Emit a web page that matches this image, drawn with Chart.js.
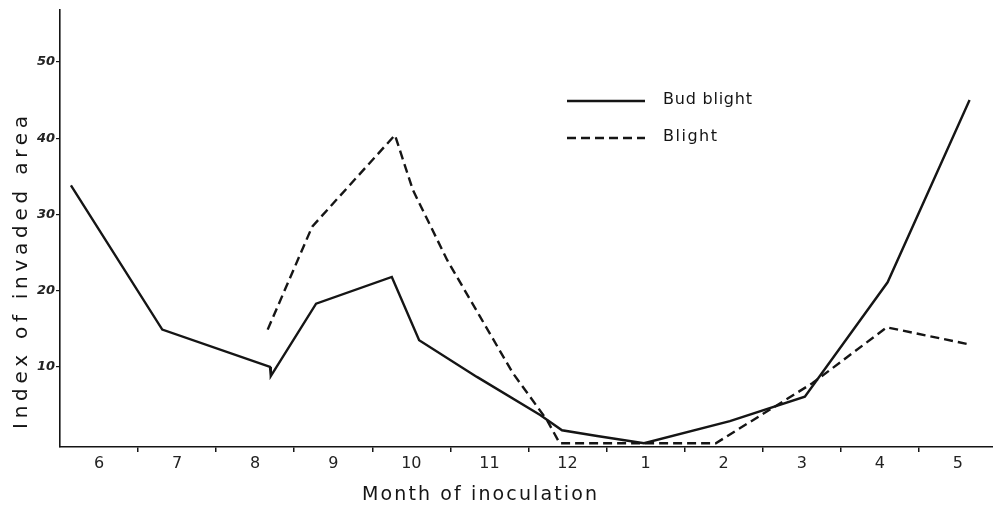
<!DOCTYPE html>
<html><head><meta charset="utf-8">
<script src="https://cdn.jsdelivr.net/npm/chart.js@4"></script>
<style>html,body{margin:0;padding:0;background:#fff}#wrap{width:993px;height:508px}</style>
</head><body><div id="wrap"><canvas id="c" width="993" height="508"></canvas></div>
<script>
// ---- data (x = months since start of June) ----
const monthLabels = ['6','7','8','9','10','11','12','1','2','3','4','5'];
const yTickValues = [10, 20, 30, 40, 50];
const seriesNames = ['Bud blight', 'Blight'];
const xTitle = 'Month of inoculation';
const yTitle = 'Index of invaded area';

const budBlightX = [0.14, 1.31, 2.69, 2.70, 3.28, 4.25, 4.60, 5.34, 6.15, 6.43, 6.88, 7.48, 8.58, 9.54, 10.60, 11.65];
const budBlightY = [33.8, 14.9, 10.0, 8.8, 18.3, 21.8, 13.5, 8.7, 3.7, 1.7, 0.95, 0.0, 2.9, 6.1, 21.1, 45.0];

const blightX = [2.66, 3.23, 4.29, 4.52, 4.96, 5.38, 5.80, 6.24, 6.40, 8.40, 9.64, 10.59, 11.63];
const blightY = [14.9, 28.4, 40.4, 33.2, 24.0, 16.6, 9.2, 3.0, 0.0, 0.0, 7.9, 15.2, 13.0];

const zip = (xs, ys) => xs.map((x, i) => ({x, y: ys[i]}));
const ink = '#151515';

function fitText(ctx, text, font, left, y, target) {
  ctx.font = font;
  ctx.letterSpacing = '0px';
  const w = ctx.measureText(text).width;
  const sp = (target - w) / (text.length - 1);
  ctx.letterSpacing = sp + 'px';
  ctx.textAlign = 'left';
  ctx.textBaseline = 'middle';
  ctx.fillText(text, left, y);
  ctx.letterSpacing = '0px';
}

const decor = {
  id: 'decor',
  afterDraw(chart) {
    const ctx = chart.ctx;
    ctx.save();
    ctx.fillStyle = ink;
    // x title
    fitText(ctx, xTitle, '19px "DejaVu Sans"', 362, 495, 235);
    // y title
    ctx.save();
    ctx.translate(22, 273);
    ctx.rotate(-Math.PI / 2);
    fitText(ctx, yTitle, '20px "DejaVu Sans"', -156, 0, 313);
    ctx.restore();
    // legend
    const rows = [{y: 101, tw: 89}, {y: 138, tw: 54}];
    chart.data.datasets.forEach((ds, i) => {
      const r = rows[i];
      ctx.beginPath();
      ctx.strokeStyle = ds.borderColor;
      ctx.lineWidth = ds.borderWidth;
      ctx.setLineDash(ds.borderDash || []);
      ctx.moveTo(567, r.y);
      ctx.lineTo(645, r.y);
      ctx.stroke();
      ctx.setLineDash([]);
      fitText(ctx, ds.label, '16px "DejaVu Sans"', 663, r.y - 1, r.tw);
    });
    ctx.restore();
  }
};

new Chart(document.getElementById('c'), {
  type: 'line',
  data: {
    datasets: [
      {label: seriesNames[0], data: zip(budBlightX, budBlightY), borderColor: ink, borderWidth: 2.4,
       pointRadius: 0, tension: 0, fill: false},
      {label: seriesNames[1], data: zip(blightX, blightY), borderColor: ink, borderWidth: 2.4,
       borderDash: [9, 5], pointRadius: 0, tension: 0, fill: false}
    ]
  },
  options: {
    responsive: false,
    animation: false,
    layout: {padding: {top: 10, right: 0, left: 0, bottom: 0}},
    plugins: {legend: {display: false}, tooltip: {enabled: false}},
    scales: {
      x: {
        type: 'linear', min: 0, max: 11.95,
        afterBuildTicks: s => {
          const t = [];
          for (let i = 0; i < 12; i++) { t.push({value: i + 0.5}); if (i < 11) t.push({value: i + 1}); }
          s.ticks = t;
        },
        afterFit: s => { s.height = 61; },
        ticks: {
          autoSkip: false, maxRotation: 0, padding: 2, color: '#222',
          font: {family: '"DejaVu Sans"', size: 16},
          callback: v => (v % 1 === 0 ? '' : monthLabels[Math.floor(v)])
        },
        grid: {
          drawOnChartArea: false, drawTicks: true, tickLength: 5, lineWidth: 1.5,
          color: c => (c.tick && c.tick.value % 1 === 0 ? ink : 'rgba(0,0,0,0)')
        },
        border: {display: true, color: ink, width: 1.6}
      },
      y: {
        type: 'linear', min: -0.49, max: 56.8,
        afterBuildTicks: s => { s.ticks = yTickValues.map(v => ({value: v})); },
        afterFit: s => { s.width = 60; },
        ticks: {
          padding: 1, color: '#222',
          font: {family: '"DejaVu Sans"', size: 13, style: 'italic', weight: 'bold'}
        },
        grid: {drawOnChartArea: false, drawTicks: true, tickLength: 4, lineWidth: 1.2, color: ink},
        border: {display: true, color: ink, width: 1.6}
      }
    }
  },
  plugins: [decor]
});
</script>
</body></html>
